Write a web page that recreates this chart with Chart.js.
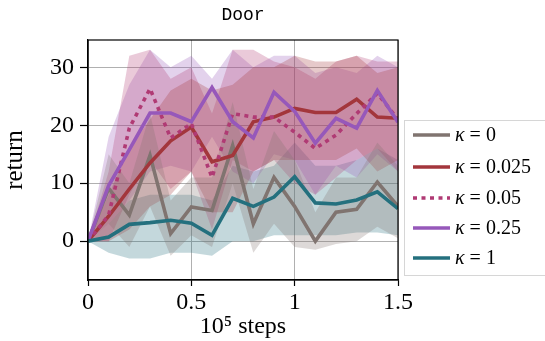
<!DOCTYPE html>
<html>
<head>
<meta charset="utf-8">
<script src="https://cdn.jsdelivr.net/npm/chart.js@4/dist/chart.umd.min.js"></script>
<style>
  html, body { margin: 0; padding: 0; background: #fff; }
  #wrap { width: 545px; height: 341px; }
</style>
</head>
<body>
<div id="wrap"><canvas id="chart" width="545" height="341"></canvas></div>
<script>
"use strict";

// ---- data ----
const steps = [0, 0.1, 0.2, 0.3, 0.4, 0.5, 0.6, 0.7, 0.8, 0.9, 1.0, 1.1, 1.2, 1.3, 1.4, 1.5];

const kappaLabels = ["0", "0.025", "0.05", "0.25", "1"];

const mean_k0     = [0, 9.1, 4.5, 14.8, 1.3, 5.9, 5.3, 16.5, 3.0, 11.0, 6.0, 0.0, 5.0, 5.5, 10.2, 6.0];
const mean_k0025  = [0, 4.3, 9.0, 13.5, 17.3, 19.7, 13.7, 14.8, 20.6, 21.4, 22.9, 22.2, 22.2, 24.5, 21.4, 21.2];
const mean_k005   = [0, 4.5, 19.5, 26.3, 17.8, 20.3, 11.0, 22.0, 21.4, 21.4, 18.8, 16.0, 18.3, 22.0, 25.5, 21.0];
const mean_k025   = [0, 9.6, 15.8, 22.1, 22.1, 20.6, 26.5, 20.6, 17.8, 25.7, 22.4, 16.9, 21.2, 19.5, 26.0, 20.5];
const mean_k1     = [0, 0.7, 2.9, 3.2, 3.6, 3.1, 1.0, 7.4, 6.0, 7.6, 11.1, 6.6, 6.4, 7.1, 8.5, 5.6];

const hi_k0    = [0, 15, 10, 22, 7, 11, 11, 24, 9, 19, 14, 5, 11, 11, 17, 13];
const lo_k0    = [0, 3, -1, 6, -2.5, 1, -1, 10, -2, 3, -1, -1.5, -0.5, 0, 2.5, 0.5];
const hi_k0025 = [0, 8, 16, 21, 26, 28, 26, 27, 30, 30, 32, 31, 31, 32, 29, 30];
const lo_k0025 = [0, 0, 2, 6, 8, 12, 5, 5, 12, 14, 14, 14, 14, 16, 12, 14];
const hi_k005  = [0, 12, 32, 33, 28, 30, 22, 33, 33, 31, 30, 28, 31, 32, 31, 31];
const lo_k005  = [0, 0, 8, 14, 9, 12, 2, 14, 12, 14, 10, 8, 11, 14, 16, 12];
const hi_k025  = [0, 18, 27, 33, 30, 32, 28, 33, 30, 32, 32, 29, 30, 29, 32, 30];
const lo_k025  = [0, 3, 7, 12, 13, 12, 18, 12, 10, 15, 14, 8, 13, 11, 15, 12];
const hi_k1    = [0, 3, 7, 8, 8, 8, 7, 13, 12, 13, 17, 13, 13, 14, 16, 14];
const lo_k1    = [0, -2, -3, -3, -2, -2, -2.5, 0, 0, 1, 1, 1, 1, 1.5, 1.5, 1];

const xTicks = [0, 0.5, 1, 1.5];
const xTickLabels = ["0", "0.5", "1", "1.5"];
const yTicks = [0, 10, 20, 30];

// ---- styling ----
const SERIES = [
    { mean: mean_k0,    hi: hi_k0,    lo: lo_k0,    rgb: [128, 116, 112], dash: [] },
    { mean: mean_k0025, hi: hi_k0025, lo: lo_k0025, rgb: [163, 54, 60],   dash: [] },
    { mean: mean_k005,  hi: hi_k005,  lo: lo_k005,  rgb: [176, 58, 116],  dash: [4, 4.5] },
    { mean: mean_k025,  hi: hi_k025,  lo: lo_k025,  rgb: [150, 88, 186],  dash: [] },
    { mean: mean_k1,    hi: hi_k1,    lo: lo_k1,    rgb: [36, 112, 126],  dash: [] }
];

const SERIF = "'Liberation Serif', 'DejaVu Serif', serif";
const MONO = "'Liberation Mono', 'DejaVu Sans Mono', monospace";
const TITLE = "Door";
const rgba = (c, a) => `rgba(${c[0]},${c[1]},${c[2]},${a})`;
const pts = (arr) => steps.map((x, i) => ({ x, y: arr[i] }));

// bands first (under everything), then the mean lines
const datasets = [];
SERIES.forEach((s) => {
    const loIdx = datasets.length;
    datasets.push({
        data: pts(s.lo), borderWidth: 0, pointRadius: 0, fill: false,
        order: 20, tension: 0
    });
    datasets.push({
        data: pts(s.hi), borderWidth: 0, pointRadius: 0,
        fill: { target: loIdx }, backgroundColor: rgba(s.rgb, 0.27),
        order: 20, tension: 0
    });
});
SERIES.forEach((s, k) => {
    datasets.push({
        label: "\u03ba = " + kappaLabels[k],
        data: pts(s.mean),
        borderColor: rgba(s.rgb, 1),
        borderWidth: 3.6,
        borderDash: s.dash,
        borderCapStyle: "butt",
        borderJoinStyle: "miter",
        pointRadius: 0,
        fill: false,
        tension: 0,
        order: 10 - k   // later kappa drawn on top
    });
});

// frame round the plot area, title over it, legend box on the right
const framePlugin = {
    id: "frameAndLegend",
    afterDraw(chart) {
        const { ctx, chartArea: a } = chart;
        ctx.save();
        ctx.strokeStyle = "#000";
        ctx.lineWidth = 1.2;
        ctx.strokeRect(a.left, a.top, a.right - a.left, a.bottom - a.top);

        ctx.fillStyle = "#000";
        ctx.font = "18px " + MONO;
        ctx.textAlign = "center";
        ctx.textBaseline = "middle";
        ctx.fillText(TITLE, (a.left + a.right) / 2, 15);

        // legend
        const bx = 404.5, by = 120.5, bw = 160, bh = 155;
        ctx.fillStyle = "rgba(255,255,255,0.9)";
        ctx.fillRect(bx, by, bw, bh);
        ctx.strokeStyle = "#d6d6d6";
        ctx.lineWidth = 1;
        ctx.strokeRect(bx, by, bw, bh);

        const rowY = [135, 167, 198, 228, 258];
        SERIES.forEach((s, k) => {
            const y = rowY[k];
            ctx.strokeStyle = rgba(s.rgb, 1);
            ctx.lineWidth = 3.6;
            ctx.lineCap = "butt";
            ctx.setLineDash(s.dash);
            ctx.beginPath();
            ctx.moveTo(413, y);
            ctx.lineTo(450, y);
            ctx.stroke();
            ctx.setLineDash([]);

            ctx.fillStyle = "#000";
            ctx.textBaseline = "middle";
            ctx.textAlign = "left";
            ctx.font = "italic 20px " + SERIF;
            let x = 455;
            ctx.fillText("\u03ba", x, y + 1);
            x += ctx.measureText("\u03ba").width + 5;
            ctx.font = "20px " + SERIF;
            ctx.fillText("=", x, y + 1);
            x += ctx.measureText("=").width + 5;
            ctx.fillText(kappaLabels[k], x, y + 1);
        });
        ctx.restore();
    }
};

new Chart(document.getElementById("chart"), {
    type: "line",
    data: { datasets },
    options: {
        responsive: false,
        animation: false,
        layout: { padding: { left: 0, right: 147, top: 40, bottom: 0 } },
        plugins: {
            legend: { display: false },
            tooltip: { enabled: false },
            filler: { drawTime: "beforeDatasetsDraw" },
            title: { display: false }
        },
        scales: {
            x: {
                type: "linear",
                min: 0,
                max: 1.5,
                afterBuildTicks: (axis) => { axis.ticks = xTicks.map(v => ({ value: v })); },
                afterFit: (axis) => { axis.height = 61; },
                ticks: {
                    color: "#000",
                    font: { family: SERIF, size: 24 },
                    padding: 2,
                    maxRotation: 0,
                    callback: (v) => xTickLabels[xTicks.indexOf(v)] ?? ""
                },
                grid: { color: "#b0b0b0", lineWidth: 1, tickColor: "#000", tickLength: 6, tickWidth: 1.2 },
                border: { display: true, color: "#000", width: 1.2 },
                title: {
                    display: true,
                    text: "10\u2075 steps",
                    color: "#000",
                    font: { family: SERIF, size: 24 },
                    padding: { top: -4, bottom: 0 }
                }
            },
            y: {
                min: -6.7,
                max: 34.7,
                afterBuildTicks: (axis) => { axis.ticks = yTicks.map(v => ({ value: v })); },
                afterFit: (axis) => { axis.width = 88; },
                ticks: {
                    color: "#000",
                    font: { family: SERIF, size: 24 },
                    padding: 6,
                    callback: (v) => String(v)
                },
                grid: { color: "#b0b0b0", lineWidth: 1, tickColor: "#000", tickLength: 8, tickWidth: 1.2 },
                border: { display: true, color: "#000", width: 1.2 },
                title: {
                    display: true,
                    text: "return",
                    color: "#000",
                    font: { family: SERIF, size: 25 },
                    padding: { top: 0, bottom: 0 }
                }
            }
        }
    },
    plugins: [framePlugin]
});
</script>
</body>
</html>
